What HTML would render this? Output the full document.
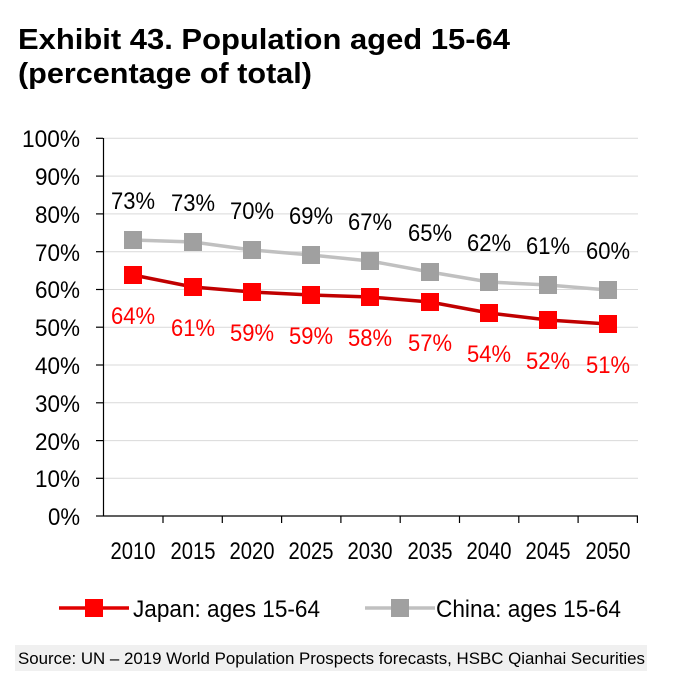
<!DOCTYPE html>
<html><head><meta charset="utf-8"><style>
body{margin:0;background:#fff;}
svg{display:block;font-family:"Liberation Sans",Arial,sans-serif;}
</style></head><body>
<svg width="673" height="681" viewBox="0 0 673 681">
<text x="18" y="49" font-size="29" font-weight="bold" fill="#000" textLength="492" lengthAdjust="spacingAndGlyphs">Exhibit 43. Population aged 15-64</text>
<text x="18" y="83" font-size="29" font-weight="bold" fill="#000" textLength="294" lengthAdjust="spacingAndGlyphs">(percentage of total)</text>
<g stroke="#d9d9d9" stroke-width="1">
<line x1="103" x2="638" y1="138.3" y2="138.3"/><line x1="103" x2="638" y1="176.1" y2="176.1"/>
<line x1="103" x2="638" y1="213.9" y2="213.9"/><line x1="103" x2="638" y1="251.7" y2="251.7"/>
<line x1="103" x2="638" y1="289.5" y2="289.5"/><line x1="103" x2="638" y1="327.2" y2="327.2"/>
<line x1="103" x2="638" y1="365" y2="365"/><line x1="103" x2="638" y1="402.8" y2="402.8"/>
<line x1="103" x2="638" y1="440.6" y2="440.6"/><line x1="103" x2="638" y1="478.3" y2="478.3"/>
</g>
<g stroke="#000" stroke-width="1.2">
<line x1="103.5" y1="138" x2="103.5" y2="516"/>
<line x1="103" y1="516" x2="638" y2="516"/>
<line x1="96" x2="103" y1="138.3" y2="138.3"/><line x1="96" x2="103" y1="176.1" y2="176.1"/>
<line x1="96" x2="103" y1="213.9" y2="213.9"/><line x1="96" x2="103" y1="251.7" y2="251.7"/>
<line x1="96" x2="103" y1="289.5" y2="289.5"/><line x1="96" x2="103" y1="327.2" y2="327.2"/>
<line x1="96" x2="103" y1="365" y2="365"/><line x1="96" x2="103" y1="402.8" y2="402.8"/>
<line x1="96" x2="103" y1="440.6" y2="440.6"/><line x1="96" x2="103" y1="478.3" y2="478.3"/>
<line x1="96" x2="103" y1="516" y2="516"/>
<line x1="163" x2="163" y1="516" y2="523"/><line x1="222.3" x2="222.3" y1="516" y2="523"/>
<line x1="281.6" x2="281.6" y1="516" y2="523"/><line x1="340.9" x2="340.9" y1="516" y2="523"/>
<line x1="400.2" x2="400.2" y1="516" y2="523"/><line x1="459.5" x2="459.5" y1="516" y2="523"/>
<line x1="518.8" x2="518.8" y1="516" y2="523"/><line x1="578.1" x2="578.1" y1="516" y2="523"/>
<line x1="637.4" x2="637.4" y1="516" y2="523"/>
</g>
<g font-size="24" fill="#000" text-anchor="end" lengthAdjust="spacingAndGlyphs">
<text x="80" y="147" textLength="58" lengthAdjust="spacingAndGlyphs">100%</text>
<text x="80" y="185" textLength="45" lengthAdjust="spacingAndGlyphs">90%</text>
<text x="80" y="223" textLength="45" lengthAdjust="spacingAndGlyphs">80%</text>
<text x="80" y="261" textLength="45" lengthAdjust="spacingAndGlyphs">70%</text>
<text x="80" y="298" textLength="45" lengthAdjust="spacingAndGlyphs">60%</text>
<text x="80" y="336" textLength="45" lengthAdjust="spacingAndGlyphs">50%</text>
<text x="80" y="374" textLength="45" lengthAdjust="spacingAndGlyphs">40%</text>
<text x="80" y="412" textLength="45" lengthAdjust="spacingAndGlyphs">30%</text>
<text x="80" y="450" textLength="45" lengthAdjust="spacingAndGlyphs">20%</text>
<text x="80" y="487" textLength="45" lengthAdjust="spacingAndGlyphs">10%</text>
<text x="80" y="525" textLength="32" lengthAdjust="spacingAndGlyphs">0%</text>
</g>
<g font-size="24" fill="#000" text-anchor="middle">
<text x="133" y="559" textLength="45" lengthAdjust="spacingAndGlyphs">2010</text>
<text x="193" y="559" textLength="45" lengthAdjust="spacingAndGlyphs">2015</text>
<text x="252" y="559" textLength="45" lengthAdjust="spacingAndGlyphs">2020</text>
<text x="311" y="559" textLength="45" lengthAdjust="spacingAndGlyphs">2025</text>
<text x="370" y="559" textLength="45" lengthAdjust="spacingAndGlyphs">2030</text>
<text x="430" y="559" textLength="45" lengthAdjust="spacingAndGlyphs">2035</text>
<text x="489" y="559" textLength="45" lengthAdjust="spacingAndGlyphs">2040</text>
<text x="548" y="559" textLength="45" lengthAdjust="spacingAndGlyphs">2045</text>
<text x="608" y="559" textLength="45" lengthAdjust="spacingAndGlyphs">2050</text>
</g>
<polyline fill="none" stroke="#c0c0c0" stroke-width="3.5" points="133,240 193,242 252,250 311,255 370,261 430,272 489,282 548,285 608,290"/>
<g fill="#a0a0a0">
<rect x="124" y="231" width="18" height="18"/><rect x="184" y="233" width="18" height="18"/>
<rect x="243" y="241" width="18" height="18"/><rect x="302" y="246" width="18" height="18"/>
<rect x="361" y="252" width="18" height="18"/><rect x="421" y="263" width="18" height="18"/>
<rect x="480" y="273" width="18" height="18"/><rect x="539" y="276" width="18" height="18"/>
<rect x="599" y="281" width="18" height="18"/>
</g>
<polyline fill="none" stroke="#c00000" stroke-width="3.5" points="133,275 193,287 252,292 311,295 370,297 430,302 489,313 548,320 608,324"/>
<g fill="#ff0000">
<rect x="124" y="266" width="18" height="18"/><rect x="184" y="278" width="18" height="18"/>
<rect x="243" y="283" width="18" height="18"/><rect x="302" y="286" width="18" height="18"/>
<rect x="361" y="288" width="18" height="18"/><rect x="421" y="293" width="18" height="18"/>
<rect x="480" y="304" width="18" height="18"/><rect x="539" y="311" width="18" height="18"/>
<rect x="599" y="315" width="18" height="18"/>
</g>
<g font-size="24" fill="#000" text-anchor="middle">
<text x="133" y="209" textLength="44" lengthAdjust="spacingAndGlyphs">73%</text>
<text x="193" y="211" textLength="44" lengthAdjust="spacingAndGlyphs">73%</text>
<text x="252" y="219" textLength="44" lengthAdjust="spacingAndGlyphs">70%</text>
<text x="311" y="224" textLength="44" lengthAdjust="spacingAndGlyphs">69%</text>
<text x="370" y="230" textLength="44" lengthAdjust="spacingAndGlyphs">67%</text>
<text x="430" y="241" textLength="44" lengthAdjust="spacingAndGlyphs">65%</text>
<text x="489" y="251" textLength="44" lengthAdjust="spacingAndGlyphs">62%</text>
<text x="548" y="254" textLength="44" lengthAdjust="spacingAndGlyphs">61%</text>
<text x="608" y="259" textLength="44" lengthAdjust="spacingAndGlyphs">60%</text>
</g>
<g font-size="24" fill="#ff0000" text-anchor="middle">
<text x="133" y="324" textLength="44" lengthAdjust="spacingAndGlyphs">64%</text>
<text x="193" y="336" textLength="44" lengthAdjust="spacingAndGlyphs">61%</text>
<text x="252" y="341" textLength="44" lengthAdjust="spacingAndGlyphs">59%</text>
<text x="311" y="344" textLength="44" lengthAdjust="spacingAndGlyphs">59%</text>
<text x="370" y="346" textLength="44" lengthAdjust="spacingAndGlyphs">58%</text>
<text x="430" y="351" textLength="44" lengthAdjust="spacingAndGlyphs">57%</text>
<text x="489" y="362" textLength="44" lengthAdjust="spacingAndGlyphs">54%</text>
<text x="548" y="369" textLength="44" lengthAdjust="spacingAndGlyphs">52%</text>
<text x="608" y="373" textLength="44" lengthAdjust="spacingAndGlyphs">51%</text>
</g>
<line x1="59" y1="608" x2="129" y2="608" stroke="#e00000" stroke-width="3.5"/>
<rect x="85" y="599" width="18" height="18" fill="#ff0000"/>
<text x="133" y="617" font-size="24" fill="#000" textLength="187" lengthAdjust="spacingAndGlyphs">Japan: ages 15-64</text>
<line x1="365" y1="608" x2="435" y2="608" stroke="#c0c0c0" stroke-width="3.5"/>
<rect x="391" y="599" width="18" height="18" fill="#a0a0a0"/>
<text x="436" y="617" font-size="24" fill="#000" textLength="185" lengthAdjust="spacingAndGlyphs">China: ages 15-64</text>
<rect x="15" y="645" width="632" height="26" fill="#f0f0f0"/>
<text x="18" y="664" font-size="17" fill="#000" textLength="627" lengthAdjust="spacingAndGlyphs">Source: UN – 2019 World Population Prospects forecasts, HSBC Qianhai Securities</text>
</svg>
</body></html>
